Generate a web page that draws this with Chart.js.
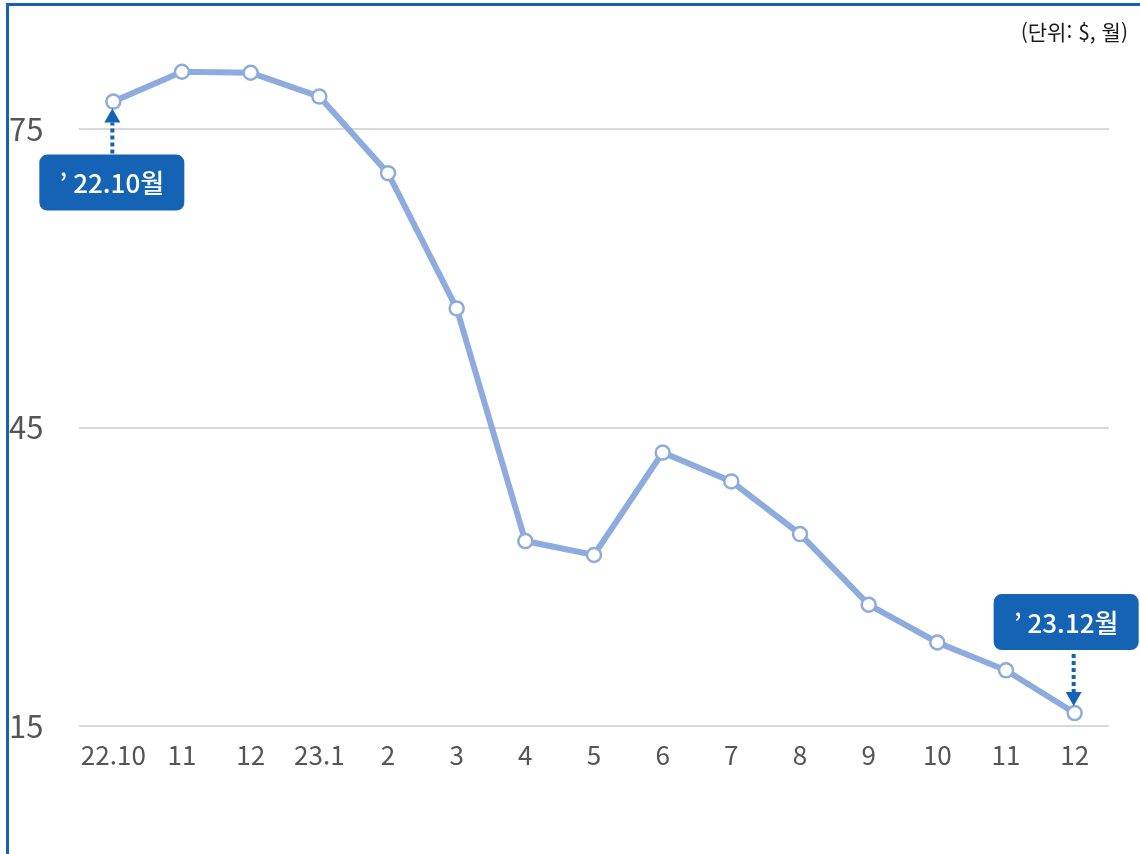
<!DOCTYPE html>
<html lang="ko">
<head>
<meta charset="utf-8">
<script src="https://cdn.jsdelivr.net/npm/chart.js@4"></script>
<style>
  body { margin: 0; background: #fff; overflow: hidden; }
  #wrap { position: relative; width: 1140px; height: 854px; }
  #frame { position: absolute; left: 6px; top: 3px; right: -10px; bottom: -10px;
           border-left: 3px solid #1560b8; border-top: 3px solid #1560b8; }
  #unit { position: absolute; right: 12px; top: 16px; font: 21px "Noto Sans CJK KR", sans-serif; color: #1a1a1a; }
  canvas { position: absolute; left: 0; top: 0; }
</style>
</head>
<body>
<div id="wrap">
  <div id="frame"></div>
  <canvas id="myChart" width="1140" height="854"></canvas>
  <div id="unit">(단위: $, 월)</div>
</div>
<script>
// 월별 값 (단위: $)
const meses = ['22.10', '11', '12', '23.1', '2', '3', '4', '5', '6', '7', '8', '9', '10', '11', '12'];
const valores = [77.8, 80.8, 80.7, 78.3, 70.6, 57.0, 33.6, 32.2, 42.5, 39.6, 34.3, 27.2, 23.4, 20.6, 16.3];
const yTicks = [15, 45, 75];
const etiquetas = ['’ 22.10월', '’ 23.12월'];

const colorLinea = '#8eabdd';
const colorCaja = '#1463b4';

// dibuja las cajas azules con flecha punteada hacia el punto
const calloutPlugin = {
  id: 'callouts',
  afterDatasetsDraw(chart) {
    const ctx = chart.ctx;
    const pts = chart.getDatasetMeta(0).data;
    const cajas = [
      { idx: 0, text: etiquetas[0], dx: -1.5, below: true, gap: 53 },
      { idx: pts.length - 1, text: etiquetas[1], dx: -8.5, below: false, gap: 63 }
    ];
    const w = 145, h = 56;
    cajas.forEach(c => {
      const p = pts[c.idx];
      const cx = p.x + c.dx;
      const top = c.below ? p.y + c.gap : p.y - c.gap - h;
      ctx.save();
      ctx.fillStyle = colorCaja;
      ctx.beginPath();
      ctx.roundRect(cx - w / 2, top, w, h, 8);
      ctx.fill();
      ctx.fillStyle = '#fff';
      ctx.font = '500 26px "Noto Sans CJK KR", sans-serif';
      ctx.textAlign = 'center';
      ctx.textBaseline = 'middle';
      ctx.fillText(c.text, cx, top + h / 2 + 1);

      // flecha punteada
      const ax = p.x - 1;
      const tipY = c.below ? p.y + 7 : p.y - 7;
      const baseY = c.below ? tipY + 14 : tipY - 14;
      const startY = c.below ? top - 1 : top + h + 4;
      ctx.strokeStyle = colorCaja;
      ctx.fillStyle = colorCaja;
      ctx.lineWidth = 4;
      ctx.setLineDash([4, 3]);
      ctx.beginPath();
      ctx.moveTo(ax, startY);
      ctx.lineTo(ax, baseY);
      ctx.stroke();
      ctx.setLineDash([]);
      ctx.beginPath();
      ctx.moveTo(ax, tipY);
      ctx.lineTo(ax - 8, baseY);
      ctx.lineTo(ax + 8, baseY);
      ctx.closePath();
      ctx.fill();
      ctx.restore();
    });
  }
};

const ctx = document.getElementById('myChart');
new Chart(ctx, {
  type: 'line',
  data: {
    labels: meses,
    datasets: [{
      data: valores,
      borderColor: colorLinea,
      borderWidth: 6,
      tension: 0,
      pointRadius: 7,
      pointBorderWidth: 2.5,
      pointBackgroundColor: '#fff',
      pointBorderColor: colorLinea
    }]
  },
  options: {
    responsive: false,
    animation: false,
    layout: { padding: { left: 9, right: 31, top: 30, bottom: 0 } },
    plugins: { legend: { display: false }, tooltip: { enabled: false } },
    scales: {
      x: {
        offset: true,
        grid: { display: false, drawTicks: false },
        border: { display: false },
        ticks: { color: '#555', padding: 14, maxRotation: 0, autoSkip: false,
                 font: { size: 26, family: '"Noto Sans CJK KR", sans-serif' } },
        afterFit(scale) { scale.height = 128; }
      },
      y: {
        min: 15,
        max: 85,
        grid: { color: '#d9d9d9', lineWidth: 2, drawTicks: false },
        border: { display: false },
        ticks: { color: '#555', crossAlign: 'far', padding: 0,
                 font: { size: 31, family: '"Noto Sans CJK KR", sans-serif' } },
        afterBuildTicks(scale) { scale.ticks = yTicks.map(v => ({ value: v })); },
        afterFit(scale) { scale.width = 70; }
      }
    }
  },
  plugins: [calloutPlugin]
});
</script>
</body>
</html>
